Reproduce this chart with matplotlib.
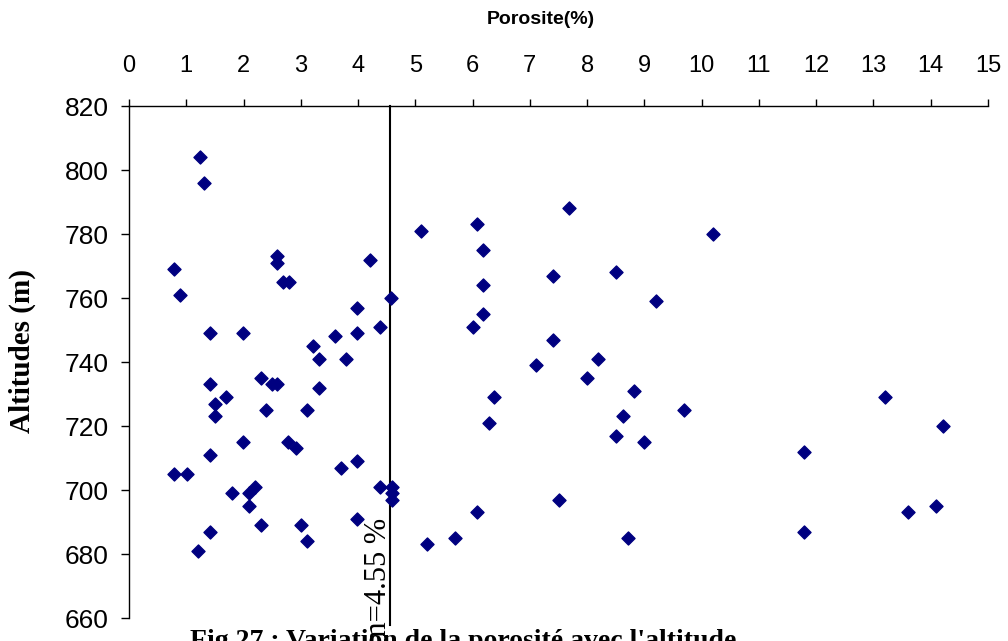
import matplotlib
matplotlib.use("Agg")
import matplotlib.pyplot as plt

porosity = [1.24, 1.31, 0.79, 0.89, 2.59, 2.59, 2.69, 2.80, 4.2, 4.57,
            3.99, 4.39, 1.42, 1.99, 3.6, 3.99, 3.22, 3.31, 3.79, 1.42,
            2.31, 2.5, 2.59, 3.31, 1.7, 1.5, 1.5, 2.4, 3.11, 1.99,
            2.78, 2.92, 1.42, 3.7, 3.99, 0.79, 1.01, 2.2, 2.1, 1.8,
            2.1, 4.39, 4.6, 4.6, 4.6, 3.99, 2.31, 3.0, 1.42, 3.11, 1.21,
            5.1, 6.08, 6.19, 6.19, 6.19, 6.0, 7.69, 7.4, 8.51, 9.2,
            7.4, 7.1, 8.19, 7.99, 8.81, 6.38, 6.29, 8.62, 8.51, 9.0,
            9.69, 7.5, 6.08, 5.7, 5.21, 8.71, 10.19, 11.78, 11.78, 13.2,
            14.21, 13.6, 14.1]
altitude = [804, 796, 769, 761, 773, 771, 765, 765, 772, 760,
            757, 751, 749, 749, 748, 749, 745, 741, 741, 733,
            735, 733, 733, 732, 729, 727, 723, 725, 725, 715,
            715, 713, 711, 707, 709, 705, 705, 701, 699, 699,
            695, 701, 701, 699, 697, 691, 689, 689, 687, 684, 681,
            781, 783, 775, 764, 755, 751, 788, 767, 768, 759,
            747, 739, 741, 735, 731, 729, 721, 723, 717, 715,
            725, 697, 693, 685, 683, 685, 780, 712, 687, 729,
            720, 693, 695]

mean_porosity = 4.55
x_ticks = list(range(0, 16))
y_ticks = list(range(660, 821, 20))

fig = plt.figure(figsize=(10.08, 6.41), dpi=100)
ax = fig.add_axes([129 / 1008, 1 - 618 / 641, (988 - 129) / 1008, (618 - 106) / 641])

ax.scatter(porosity, altitude, marker="D", s=44, color="#000080", zorder=3)

# mean line, runs a bit past the bottom of the axis
ax.plot([mean_porosity, mean_porosity], [820, 657.8], color="black", lw=1.5,
        clip_on=False, zorder=2)

ax.set_xlim(0, 15)
ax.set_ylim(660, 820)
ax.set_xticks(x_ticks)
ax.set_yticks(y_ticks)

ax.xaxis.tick_top()
ax.spines["bottom"].set_visible(False)
ax.spines["right"].set_visible(False)
ax.spines["top"].set_linewidth(1)
ax.spines["left"].set_linewidth(1)
ax.tick_params(axis="x", direction="out", length=5, width=1, pad=16,
               labelsize=17)
ax.tick_params(axis="y", direction="out", length=5.5, width=1, pad=9,
               labelsize=19)
for lab in ax.get_xticklabels() + ax.get_yticklabels():
    lab.set_family("Liberation Sans")

fig.text(541 / 1008, 1 - 20 / 641, "Porosite(%)", ha="center", va="center",
         fontsize=14, fontweight="bold", family="Liberation Sans")
fig.text(22 / 1008, 1 - 351 / 641, "Altitudes (m)", ha="center", va="center",
         rotation=90, fontsize=21, fontweight="bold", family="Liberation Serif")
fig.text(378 / 1008, -4 / 641, "m=4.55 %", ha="center", va="bottom",
         rotation=90, fontsize=22, family="Liberation Serif")
fig.text(190 / 1008, 1 - 629 / 641,
         "Fig.27 : Variation de la porosité avec l'altitude",
         ha="left", va="top", fontsize=20, fontweight="bold",
         family="Liberation Serif")

plt.savefig("out.png", dpi=100)
